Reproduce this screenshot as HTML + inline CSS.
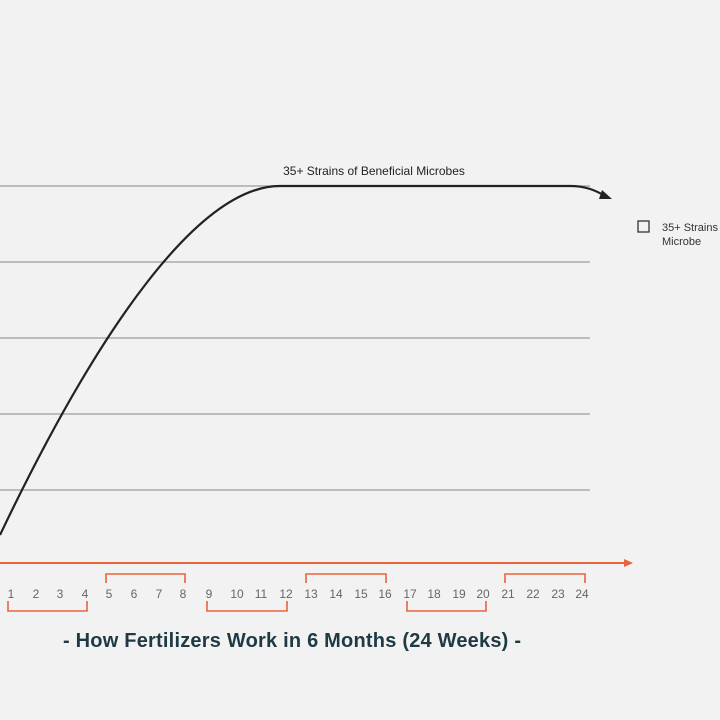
<!DOCTYPE html>
<html><head><style>
html,body{margin:0;padding:0;background:#f2f2f2;}
svg{display:block;}
text{font-family:"Liberation Sans",sans-serif;}
</style></head><body>
<svg width="720" height="720" viewBox="0 0 720 720">
<rect width="720" height="720" fill="#f2f2f2"/>
<g stroke="#a9a9a9" stroke-width="1.5">
<line x1="0" y1="186" x2="590" y2="186"/>
<line x1="0" y1="262" x2="590" y2="262"/>
<line x1="0" y1="338" x2="590" y2="338"/>
<line x1="0" y1="414" x2="590" y2="414"/>
<line x1="0" y1="490" x2="590" y2="490"/>
</g>
<line x1="0" y1="563" x2="626" y2="563" stroke="#e8643a" stroke-width="2"/>
<polygon points="624,559 633,563 624,567" fill="#e8643a"/>
<path d="M0,535 C100,325 200,186 280,186 L570,186 C585,186 595,190 605,196" fill="none" stroke="#222" stroke-width="2.2"/>
<polygon points="602,190 612,199 599,199" fill="#222"/>
<text x="374" y="175" font-size="12" text-anchor="middle" fill="#222">35+ Strains of Beneficial Microbes</text>
<rect x="638" y="221" width="11" height="11" fill="none" stroke="#333" stroke-width="1.3"/>
<text x="662" y="231" font-size="11" fill="#333">35+ Strains</text>
<text x="662" y="245" font-size="11" fill="#333">Microbe</text>
<g font-size="12" fill="#666" text-anchor="middle">
<text x="11" y="598">1</text><text x="36" y="598">2</text><text x="60" y="598">3</text><text x="85" y="598">4</text>
<text x="109" y="598">5</text><text x="134" y="598">6</text><text x="159" y="598">7</text><text x="183" y="598">8</text>
<text x="209" y="598">9</text><text x="237" y="598">10</text><text x="261" y="598">11</text><text x="286" y="598">12</text>
<text x="311" y="598">13</text><text x="336" y="598">14</text><text x="361" y="598">15</text><text x="385" y="598">16</text>
<text x="410" y="598">17</text><text x="434" y="598">18</text><text x="459" y="598">19</text><text x="483" y="598">20</text>
<text x="508" y="598">21</text><text x="533" y="598">22</text><text x="558" y="598">23</text><text x="582" y="598">24</text>
</g>
<g fill="none" stroke="#e8643a" stroke-width="1.6">
<path d="M8,601 V611 H87 V601"/>
<path d="M106,583 V574 H185 V583"/>
<path d="M207,601 V611 H287 V601"/>
<path d="M306,583 V574 H386 V583"/>
<path d="M407,601 V611 H486 V601"/>
<path d="M505,583 V574 H585 V583"/>
</g>
<text x="292" y="647" font-size="20" font-weight="bold" text-anchor="middle" fill="#1f3a45" textLength="458" lengthAdjust="spacing">- How Fertilizers Work in 6 Months (24 Weeks) -</text>
</svg>
</body></html>
